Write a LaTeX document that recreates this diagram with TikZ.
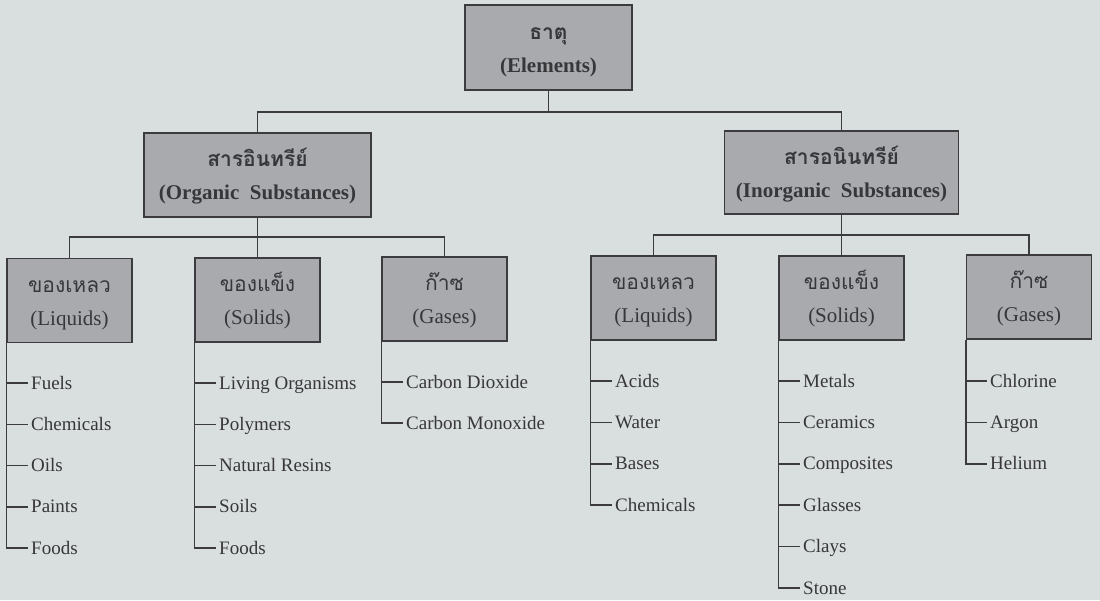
\documentclass[tikz,border=0pt]{standalone}
\usepackage{fontspec}
\setmainfont{Liberation Serif}
\newfontfamily\thaifont[Script=Thai]{Loma}
\usetikzlibrary{positioning,calc}

\definecolor{bgcol}{HTML}{D9DEDF}
\definecolor{boxcol}{HTML}{A8AAAE}
\definecolor{linecol}{HTML}{3C3C3E}
\definecolor{textcol}{HTML}{37373A}

\newcommand{\thailine}[1]{\rule{0pt}{21pt}{\thaifont #1}}

\begin{document}
\begin{tikzpicture}[x=1pt, y=-1pt,
    every node/.style={text=textcol},
    headbox/.style={draw=linecol, fill=boxcol, line width=1.5pt, align=center, inner sep=0pt,
        font=\bfseries\fontsize{21}{33}\selectfont},
    catbox/.style={draw=linecol, fill=boxcol, line width=1.5pt, align=center, inner sep=0pt,
        minimum width=125pt, minimum height=84pt, font=\fontsize{21}{33}\selectfont},
    item/.style={anchor=west, inner xsep=3pt, inner ysep=0pt, text height=13pt, text depth=1pt,
        font=\fontsize{19}{19}\selectfont},
    link/.style={draw=linecol, line width=1.5pt}]
        \fill[bgcol] (0,0) rectangle (1100,600);

        % Boxes
        \node[headbox, minimum width=167pt, minimum height=85pt] (elem) at (548.5,47.5) {\thailine{ธาตุ}\\(Elements)};
        \node[headbox, minimum width=227pt, minimum height=84pt] (org) at (257.5,175) {\thailine{สารอินทรีย์}\\(Organic~~Substances)};
        \node[headbox, minimum width=234pt, minimum height=83pt] (inorg) at (841.5,172.5) {\thailine{สารอนินทรีย์}\\(Inorganic~~Substances)};

        \node[catbox] (oliq) at (69.5,300.5) {\thailine{ของเหลว}\\(Liquids)};
        \node[catbox] (osol) at (257.5,300) {\thailine{ของแข็ง}\\(Solids)};
        \node[catbox] (ogas) at (444.5,299) {\thailine{ก๊าซ}\\(Gases)};
        \node[catbox] (iliq) at (653.5,298) {\thailine{ของเหลว}\\(Liquids)};
        \node[catbox] (isol) at (841.5,298) {\thailine{ของแข็ง}\\(Solids)};
        \node[catbox] (igas) at (1029,297) {\thailine{ก๊าซ}\\(Gases)};

        % Links
        \draw[link] (elem.south) -- (elem.south |- 0,112) -| (org.north);
        \draw[link] (elem.south |- 0,112) -| (inorg.north);
        \draw[link] (org.south) -- (org.south |- 0,237) -| (oliq.north);
        \draw[link] (org.south |- 0,237) -- (osol.north);
        \draw[link] (org.south |- 0,237) -| (ogas.north);
        \draw[link] (inorg.south) -- (inorg.south |- 0,235) -| (iliq.north);
        \draw[link] (inorg.south |- 0,235) -- (isol.north);
        \draw[link] (inorg.south |- 0,235) -| (igas.north);

        % Lists
        \foreach \t [count=\i] in {Fuels,Chemicals,Oils,Paints,Foods} {
            \node[item] (ol\i) at ({7+21},{383+41.25*(\i-1)}) {\t};
            \draw[link] (oliq.south west |- ol\i.west) -- (ol\i.west);
        }
        \draw[link] (oliq.south west) |- (ol5.west);
        \foreach \t [count=\i] in {Living Organisms,Polymers,Natural Resins,Soils,Foods} {
            \node[item] (os\i) at ({195+21},{383+41.25*(\i-1)}) {\t};
            \draw[link] (osol.south west |- os\i.west) -- (os\i.west);
        }
        \draw[link] (osol.south west) |- (os5.west);
        \foreach \t [count=\i] in {Carbon Dioxide,Carbon Monoxide} {
            \node[item] (og\i) at ({382+21},{382+41*(\i-1)}) {\t};
            \draw[link] (ogas.south west |- og\i.west) -- (og\i.west);
        }
        \draw[link] (ogas.south west) |- (og2.west);
        \foreach \t [count=\i] in {Acids,Water,Bases,Chemicals} {
            \node[item] (il\i) at ({591+21},{381+41.4*(\i-1)}) {\t};
            \draw[link] (iliq.south west |- il\i.west) -- (il\i.west);
        }
        \draw[link] (iliq.south west) |- (il4.west);
        \foreach \t [count=\i] in {Metals,Ceramics,Composites,Glasses,Clays,Stone} {
            \node[item] (is\i) at ({779+21},{381+41.4*(\i-1)}) {\t};
            \draw[link] (isol.south west |- is\i.west) -- (is\i.west);
        }
        \draw[link] (isol.south west) |- (is6.west);
        \foreach \t [count=\i] in {Chlorine,Argon,Helium} {
            \node[item] (ig\i) at ({966+21},{381+41.4*(\i-1)}) {\t};
            \draw[link] (igas.south west |- ig\i.west) -- (ig\i.west);
        }
        \draw[link] (igas.south west) |- (ig3.west);
    \end{tikzpicture}
\end{document}
